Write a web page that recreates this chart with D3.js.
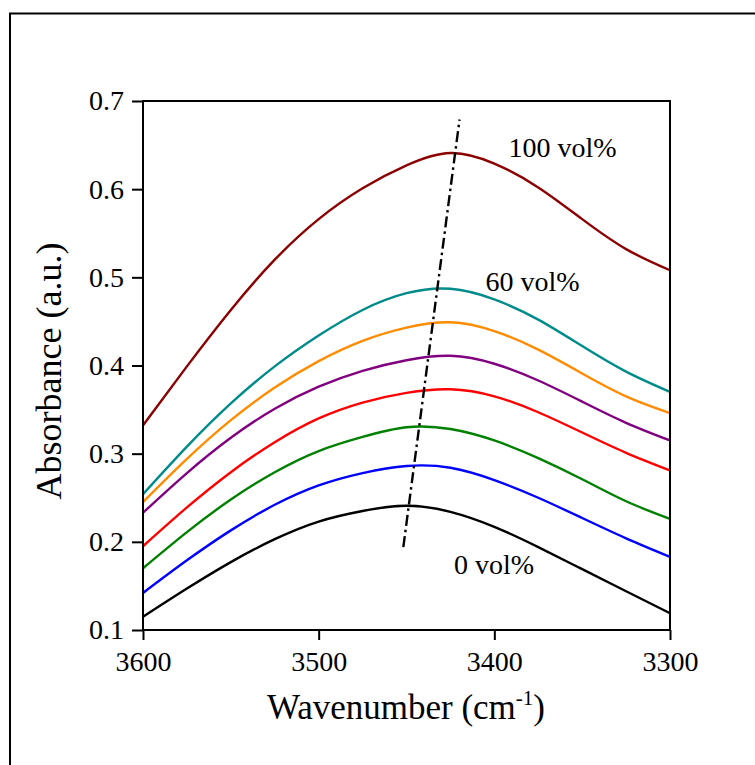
<!DOCTYPE html>
<html lang="en">
<head>
<meta charset="utf-8" />
<title>Absorbance vs wavenumber</title>
<script src="https://cdn.jsdelivr.net/npm/d3@7/dist/d3.min.js"></script>
<style type="text/css">
    body { margin: 0; background: #fff; }
    svg { display: block; }
    text { font-family: "Liberation Serif", "Times New Roman", serif; fill: #000; }
</style>
</head>
<body>
<script type="text/javascript">
    // wavenumber samples (cm-1), every 25 cm-1
    var wavenumbers = [3600, 3575, 3550, 3525, 3500, 3475, 3450, 3425, 3400, 3375, 3350, 3325, 3300];

    var vol0   = [0.115, 0.147, 0.177, 0.203, 0.223, 0.235, 0.241, 0.234, 0.217, 0.194, 0.169, 0.144, 0.119];
    var vol10  = [0.142, 0.179, 0.213, 0.242, 0.264, 0.278, 0.286, 0.284, 0.270, 0.250, 0.227, 0.204, 0.183];
    var vol20  = [0.170, 0.211, 0.248, 0.279, 0.303, 0.319, 0.330, 0.328, 0.315, 0.295, 0.271, 0.246, 0.226];
    var vol30  = [0.195, 0.239, 0.279, 0.313, 0.340, 0.358, 0.369, 0.373, 0.365, 0.347, 0.324, 0.301, 0.281];
    var vol40  = [0.233, 0.278, 0.318, 0.351, 0.376, 0.394, 0.406, 0.411, 0.402, 0.383, 0.359, 0.335, 0.315];
    var vol50  = [0.245, 0.294, 0.338, 0.375, 0.405, 0.428, 0.443, 0.449, 0.439, 0.418, 0.391, 0.365, 0.346];
    var vol60  = [0.254, 0.308, 0.357, 0.399, 0.434, 0.463, 0.482, 0.487, 0.475, 0.452, 0.422, 0.393, 0.370];
    var vol100 = [0.332, 0.399, 0.463, 0.520, 0.566, 0.601, 0.627, 0.641, 0.629, 0.602, 0.566, 0.532, 0.508];

    var seriesValues = [vol0, vol10, vol20, vol30, vol40, vol50, vol60, vol100];
    var seriesColors = ["#000000", "#0000ff", "#008000", "#ff0000", "#800080", "#ff8c00", "#008b8b", "#8b0000"];

    // peak-shift guide (dash-dot)
    var guideX = [3451.8, 3419.8];
    var guideY = [0.194, 0.679];

    // curve labels
    var labelText = ["100 vol%", "60 vol%", "0 vol%"];
    var labelX = [3392, 3405, 3423];
    var labelY = [0.637, 0.484, 0.164];

    var xTicks = [3600, 3500, 3400, 3300];
    var yTicks = [0.1, 0.2, 0.3, 0.4, 0.5, 0.6, 0.7];

    var W = 755, H = 765;
    var svg = d3.select("body").append("svg")
        .attr("width", W)
        .attr("height", H);

    // outer frame (only top & left visible in the original)
    svg.append("path")
        .attr("d", "M10,765 L10,13.5 L755,13.5")
        .attr("fill", "none")
        .attr("stroke", "#000")
        .attr("stroke-width", 2);

    var x = d3.scaleLinear().domain([3600, 3300]).range([143, 670]);
    var y = d3.scaleLinear().domain([0.1, 0.7]).range([630, 101]);

    var line = d3.line()
        .x(function (d) { return x(d[0]); })
        .y(function (d) { return y(d[1]); })
        .curve(d3.curveNatural);

    svg.selectAll("path.series")
        .data(seriesValues)
        .enter()
        .append("path")
        .attr("class", "series")
        .attr("fill", "none")
        .attr("stroke", function (d, i) { return seriesColors[i]; })
        .attr("stroke-width", 2.4)
        .attr("d", function (vals) {
            return line(wavenumbers.map(function (w, j) { return [w, vals[j]]; }));
        });

    svg.append("path")
        .attr("fill", "none")
        .attr("stroke", "#000")
        .attr("stroke-width", 2.4)
        .attr("stroke-dasharray", "11,4,2.5,4")
        .attr("d", d3.line()([[x(guideX[0]), y(guideY[0])], [x(guideX[1]), y(guideY[1])]]));

    svg.selectAll("text.lbl")
        .data(labelText)
        .enter()
        .append("text")
        .attr("class", "lbl")
        .attr("x", function (d, i) { return x(labelX[i]); })
        .attr("y", function (d, i) { return y(labelY[i]); })
        .style("font-size", "28px")
        .text(function (d) { return d; });

    // axes
    var xAxis = svg.append("g")
        .attr("transform", "translate(0,630)")
        .call(d3.axisBottom(x).tickValues(xTicks).tickSize(10).tickSizeOuter(0).tickPadding(11)
            .tickFormat(d3.format("d")));
    var yAxis = svg.append("g")
        .attr("transform", "translate(143,0)")
        .call(d3.axisLeft(y).tickValues(yTicks).tickSize(11).tickSizeOuter(0).tickPadding(8)
            .tickFormat(d3.format(".1f")));

    [xAxis, yAxis].forEach(function (g) {
        g.attr("font-family", null);
        g.select(".domain").remove();
        g.selectAll(".tick line").attr("stroke", "#000").attr("stroke-width", 2);
        g.selectAll(".tick text").style("font-size", "28px");
    });

    // plot box
    svg.append("rect")
        .attr("x", 143).attr("y", 101)
        .attr("width", 527).attr("height", 529)
        .attr("fill", "none")
        .attr("stroke", "#000")
        .attr("stroke-width", 2);

    // axis titles
    var xt = svg.append("text")
        .attr("x", 406)
        .attr("y", 719)
        .attr("text-anchor", "middle")
        .style("font-size", "35px");
    xt.append("tspan").text("Wavenumber (cm");
    xt.append("tspan").attr("dy", -14).style("font-size", "21px").text("-1");
    xt.append("tspan").attr("dy", 14).text(")");

    svg.append("text")
        .attr("transform", "translate(61,371) rotate(-90)")
        .attr("text-anchor", "middle")
        .style("font-size", "36px")
        .text("Absorbance (a.u.)");
</script>
</body>
</html>
